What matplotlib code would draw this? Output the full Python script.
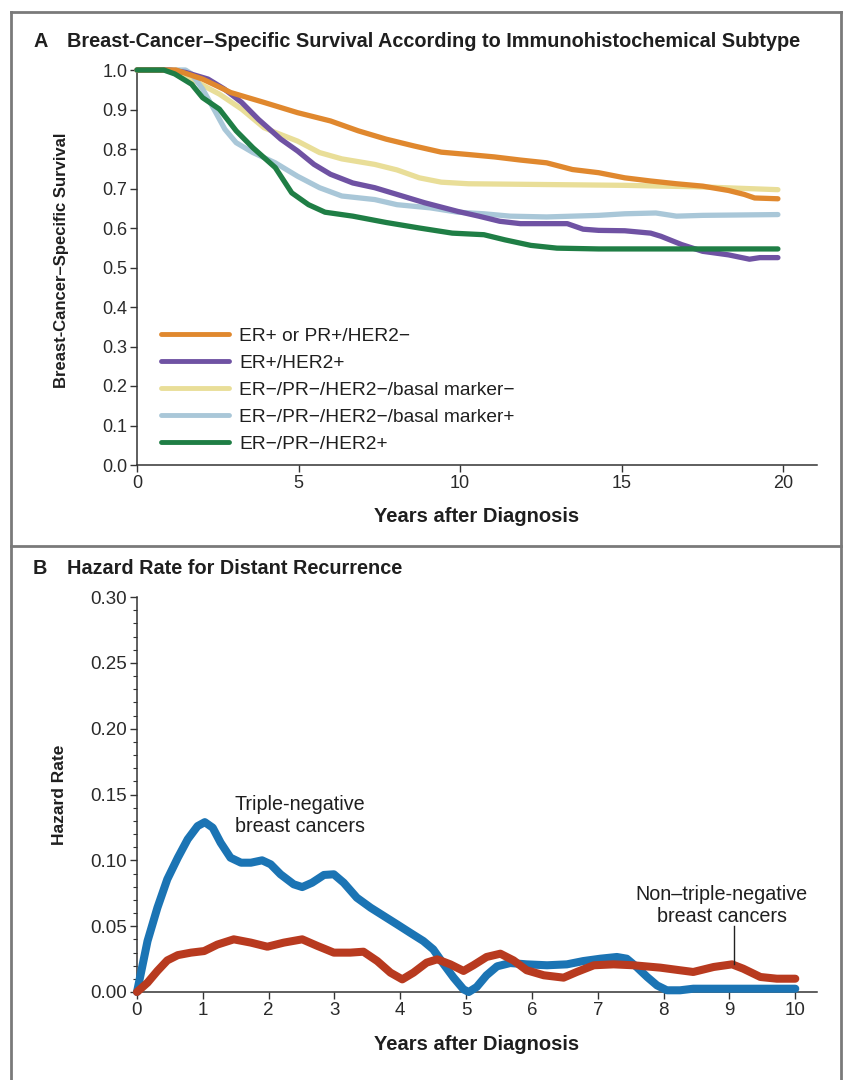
import matplotlib
matplotlib.use("Agg")
import matplotlib.pyplot as plt
from matplotlib.ticker import MultipleLocator, FixedLocator
from matplotlib.lines import Line2D

plt.rcParams['font.family'] = ['Liberation Sans', 'DejaVu Sans']

# ---------------- Panel A data ----------------
subtypes = ["ER+ or PR+/HER2\u2212", "ER+/HER2+", "ER\u2212/PR\u2212/HER2\u2212/basal marker\u2212",
            "ER\u2212/PR\u2212/HER2\u2212/basal marker+", "ER\u2212/PR\u2212/HER2+"]
colors_a = ["#E0882E", "#6F52A3", "#E9DE98", "#A9C7D8", "#1F7E45"]

orange_x = [0, 1.2, 2.03, 2.9, 3.93, 4.97, 5.99, 6.85, 7.71, 8.56, 9.42, 10.26, 11.06, 11.87,
            12.68, 13.48, 14.29, 15.1, 15.9, 16.7, 17.51, 18.31, 18.8, 19.12, 19.84]
orange_y = [1.0, 1.0, 0.977, 0.943, 0.918, 0.892, 0.871, 0.846, 0.825, 0.808, 0.792, 0.786, 0.780,
            0.772, 0.765, 0.748, 0.740, 0.727, 0.719, 0.712, 0.706, 0.695, 0.685, 0.676, 0.674]

purple_x = [0, 1.0, 1.5, 2.2, 2.7, 3.24, 3.76, 4.45, 4.97, 5.48, 5.99, 6.68, 7.36, 8.05, 8.9, 9.93,
            10.58, 11.23, 11.87, 12.68, 13.32, 13.81, 14.29, 15.1, 15.9, 16.22, 16.86, 17.51,
            18.31, 18.96, 19.28, 19.84]
purple_y = [1.0, 1.0, 0.994, 0.977, 0.952, 0.918, 0.875, 0.825, 0.795, 0.761, 0.736, 0.714, 0.702,
            0.685, 0.664, 0.642, 0.630, 0.617, 0.611, 0.611, 0.611, 0.597, 0.594, 0.593, 0.587,
            0.579, 0.558, 0.541, 0.532, 0.521, 0.525, 0.525]

yellow_x = [0, 0.83, 1.34, 1.86, 2.55, 3.24, 3.93, 4.28, 4.97, 5.65, 6.34, 7.36, 8.05, 8.74, 9.42,
            10.26, 12.68, 15.1, 17.51, 19.84]
yellow_y = [1.0, 1.0, 0.990, 0.969, 0.939, 0.901, 0.854, 0.842, 0.820, 0.791, 0.775, 0.761, 0.747,
            0.727, 0.716, 0.712, 0.710, 0.708, 0.704, 0.697]

blue_x = [0, 1.5, 1.69, 2.03, 2.38, 2.72, 3.07, 3.59, 4.28, 4.97, 5.65, 6.34, 7.36, 8.05, 9.08,
          9.93, 10.74, 11.55, 12.68, 14.29, 15.1, 16.06, 16.7, 17.51, 19.84]
blue_y = [1.0, 1.0, 0.990, 0.952, 0.901, 0.850, 0.816, 0.791, 0.765, 0.731, 0.702, 0.681, 0.672,
          0.659, 0.651, 0.640, 0.636, 0.630, 0.628, 0.632, 0.636, 0.638, 0.630, 0.632, 0.634]

green_x = [0, 0.83, 1.17, 1.69, 2.03, 2.55, 3.07, 3.59, 4.28, 4.79, 5.31, 5.82, 6.68, 7.71, 8.74,
           9.76, 10.74, 11.39, 12.19, 13.0, 14.29, 19.84]
green_y = [1.0, 1.0, 0.990, 0.964, 0.930, 0.901, 0.846, 0.803, 0.753, 0.689, 0.659, 0.640, 0.630,
           0.614, 0.600, 0.587, 0.583, 0.570, 0.556, 0.549, 0.547, 0.547]

series_a = [(orange_x, orange_y), (purple_x, purple_y), (yellow_x, yellow_y),
            (blue_x, blue_y), (green_x, green_y)]
draw_order = [2, 3, 1, 0, 4]

xticks_a = [0, 5, 10, 15, 20]
yticks_a = [0.0, 0.1, 0.2, 0.3, 0.4, 0.5, 0.6, 0.7, 0.8, 0.9, 1.0]

# ---------------- Panel B data ----------------
tn_x = [0, 0.16, 0.31, 0.46, 0.62, 0.77, 0.92, 1.03, 1.15, 1.27, 1.42, 1.58, 1.73, 1.9, 2.03,
        2.18, 2.38, 2.51, 2.66, 2.84, 2.99, 3.14, 3.34, 3.55, 3.75, 3.95, 4.15, 4.35, 4.5, 4.66,
        4.81, 4.96, 5.04, 5.16, 5.31, 5.47, 5.67, 5.92, 6.23, 6.53, 6.78, 7.04, 7.29, 7.44, 7.59,
        7.75, 7.9, 8.05, 8.25, 8.45, 8.96, 10.0]
tn_y = [0.0, 0.0387, 0.064, 0.0856, 0.102, 0.116, 0.126, 0.129, 0.1248, 0.1134, 0.102, 0.0982,
        0.0982, 0.100, 0.097, 0.0894, 0.0818, 0.0797, 0.083, 0.0889, 0.0894, 0.083, 0.0716, 0.064,
        0.0577, 0.0514, 0.045, 0.0387, 0.0324, 0.021, 0.0109, 0.002, 0.0, 0.0038, 0.0127, 0.0195,
        0.022, 0.021, 0.0203, 0.021, 0.0235, 0.0253, 0.0266, 0.0253, 0.019, 0.0114, 0.005, 0.0013,
        0.0013, 0.0025, 0.0025, 0.0025]

ntn_x = [0, 0.16, 0.31, 0.46, 0.62, 0.82, 1.02, 1.22, 1.47, 1.73, 1.98, 2.23, 2.51, 2.74, 2.99,
         3.24, 3.44, 3.65, 3.85, 4.03, 4.2, 4.4, 4.56, 4.76, 4.96, 5.11, 5.31, 5.52, 5.72, 5.92,
         6.18, 6.48, 6.68, 6.94, 7.24, 7.54, 7.95, 8.25, 8.45, 8.76, 9.04, 9.21, 9.47, 9.72, 10.0]
ntn_y = [0.0, 0.0071, 0.016, 0.024, 0.028, 0.0299, 0.0311, 0.036, 0.040, 0.0375, 0.0344, 0.0375,
         0.040, 0.035, 0.0299, 0.0299, 0.0306, 0.0235, 0.0147, 0.0096, 0.0147, 0.0223, 0.0248,
         0.021, 0.016, 0.0203, 0.0266, 0.0291, 0.024, 0.0165, 0.0127, 0.0109, 0.0152, 0.0203,
         0.021, 0.0203, 0.0185, 0.0165, 0.0152, 0.019, 0.021, 0.0177, 0.0114, 0.0101, 0.0101]

xticks_b = list(range(0, 11))
yticks_b = [0.00, 0.05, 0.10, 0.15, 0.20, 0.25, 0.30]

# ---------------- Figure ----------------
W, H = 844, 1080
fig = plt.figure(figsize=(W / 100, H / 100), dpi=100)


def fx(px):
    return px / W


def fy(py):
    return 1 - py / H


txt_c = "#1f1f1f"


def style_axes(ax, labelsize):
    for s in ["top", "right"]:
        ax.spines[s].set_visible(False)
    for s in ["left", "bottom"]:
        ax.spines[s].set_color("#333333")
        ax.spines[s].set_linewidth(1.1)
    ax.tick_params(axis="both", which="major", direction="out", length=5, width=1.0,
                   color="#333333", labelsize=labelsize, labelcolor="#2a2a2a", pad=2)
    ax.tick_params(axis="both", which="minor", direction="out", length=3, width=0.8,
                   color="#333333")


# Panel A
axA = fig.add_axes([fx(137), fy(465), fx(817 - 137), (465 - 70) / H])
for i in draw_order:
    xs, ys = series_a[i]
    axA.plot(xs, ys, color=colors_a[i], lw=3.8, solid_joinstyle="round",
             solid_capstyle="round", zorder=3 + (i == 4), clip_on=False)
axA.set_xlim(0, 21.05)
axA.set_ylim(0, 1.0)
axA.xaxis.set_major_locator(FixedLocator(xticks_a))
axA.yaxis.set_major_locator(FixedLocator(yticks_a))
axA.set_yticklabels([f"{v:.1f}" for v in yticks_a])
style_axes(axA, 13)

handles = [Line2D([0], [0], color=colors_a[i], lw=3.5, solid_capstyle="round") for i in range(5)]
leg = axA.legend(handles, subtypes, loc="lower left", bbox_to_anchor=(0.036, 0.03),
                 frameon=False, fontsize=13.8, handlelength=3.5, handletextpad=0.55,
                 labelspacing=0.5, borderaxespad=0, borderpad=0)
for t in leg.get_texts():
    t.set_color(txt_c)

# Panel B
axB = fig.add_axes([fx(137), fy(992), fx(817 - 137), (992 - 597) / H])
axB.plot(tn_x, tn_y, color="#1B74B4", lw=5.8, solid_joinstyle="round", solid_capstyle="round",
         zorder=3, clip_on=False)
axB.plot(ntn_x, ntn_y, color="#B83A1F", lw=5.8, solid_joinstyle="round", solid_capstyle="round",
         zorder=4, clip_on=False)
axB.set_xlim(0, 10.33)
axB.set_ylim(0, 0.30)
axB.xaxis.set_major_locator(FixedLocator(xticks_b))
axB.yaxis.set_major_locator(FixedLocator(yticks_b))
axB.yaxis.set_minor_locator(MultipleLocator(0.01))
axB.set_yticklabels([f"{v:.2f}" for v in yticks_b])
style_axes(axB, 13.5)

axB.text(2.47, 0.134, "Triple-negative\nbreast cancers", ha="center", va="center",
         fontsize=14.2, color=txt_c, linespacing=1.2)
axB.text(8.88, 0.0658, "Non\u2013triple-negative\nbreast cancers", ha="center", va="center",
         fontsize=14.2, color=txt_c, linespacing=1.2)
axB.plot([9.07, 9.07], [0.0499, 0.021], color="#222222", lw=1.0, zorder=5)

# Axis titles
fig.text(fx(477), fy(517), "Years after Diagnosis", fontsize=14.5, fontweight="bold",
         ha="center", va="center", color=txt_c)
fig.text(fx(62), fy(260), "Breast-Cancer\u2013Specific Survival", fontsize=12, fontweight="bold",
         ha="center", va="center", rotation=90, color=txt_c)
fig.text(fx(477), fy(1044), "Years after Diagnosis", fontsize=14.5, fontweight="bold",
         ha="center", va="center", color=txt_c)
fig.text(fx(60), fy(795), "Hazard Rate", fontsize=12.5, fontweight="bold",
         ha="center", va="center", rotation=90, color=txt_c)

# Panel titles
fig.text(fx(33), fy(47), "A", fontsize=14.3, fontweight="bold", va="baseline", ha="left",
         color=txt_c)
fig.text(fx(67), fy(47), "Breast-Cancer\u2013Specific Survival According to Immunohistochemical Subtype",
         fontsize=14.3, fontweight="bold", va="baseline", ha="left", color=txt_c)
fig.text(fx(33), fy(574), "B", fontsize=14.3, fontweight="bold", va="baseline", ha="left",
         color=txt_c)
fig.text(fx(67), fy(574), "Hazard Rate for Distant Recurrence",
         fontsize=14.3, fontweight="bold", va="baseline", ha="left", color=txt_c)

# Frame lines
frame_c = "#7a7a7a"
fig.add_artist(Line2D([fx(11), fx(841)], [fy(12), fy(12)], color=frame_c, lw=2))
fig.add_artist(Line2D([fx(11), fx(11)], [fy(12), fy(1080)], color=frame_c, lw=2))
fig.add_artist(Line2D([fx(841), fx(841)], [fy(12), fy(1080)], color=frame_c, lw=2))
fig.add_artist(Line2D([fx(11), fx(841)], [fy(546), fy(546)], color=frame_c, lw=2))

fig.savefig("out.png", dpi=100)
